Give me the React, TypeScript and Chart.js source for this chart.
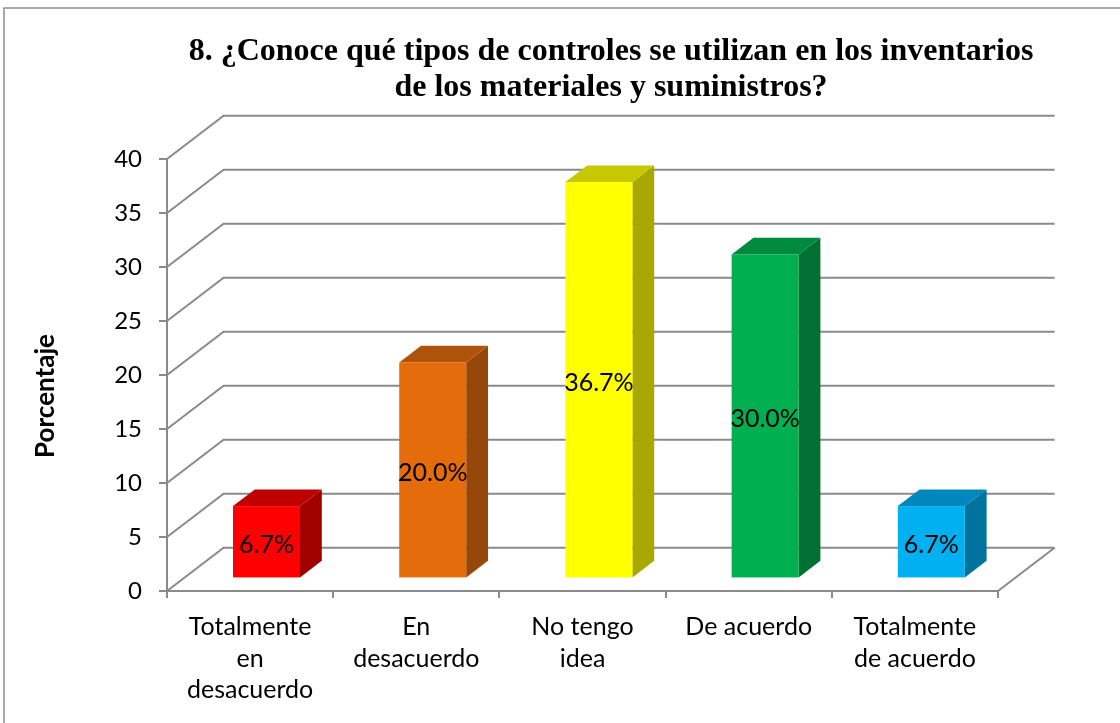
import React, { useEffect, useRef } from "react";
import { Chart, registerables } from "chart.js";

Chart.register(...registerables);

const titleLines = [
  "8. ¿Conoce qué tipos de controles se utilizan en los inventarios",
  "de los materiales y suministros?",
];
const yAxisTitle = "Porcentaje";
const categories = [
  ["Totalmente", "en", "desacuerdo"],
  ["En", "desacuerdo"],
  ["No tengo", "idea"],
  ["De acuerdo"],
  ["Totalmente", "de acuerdo"],
];
const values = [6.7, 20.0, 36.7, 30.0, 6.7];
const valueLabels = ["6.7%", "20.0%", "36.7%", "30.0%", "6.7%"];
const frontColors = ["#FF0000", "#E46C0A", "#FFFF00", "#00B050", "#00B0F0"];
const topColors = ["#C00000", "#B0530A", "#C8C800", "#008A3E", "#0088BC"];
const sideColors = ["#A00000", "#96470A", "#A8A800", "#007033", "#00729E"];
const yMin = 0;
const yMax = 40;
const yStep = 5;

const GRID = "#8a8a8a";
const GRID_W = 2;
const DX = 56.6;
const DY = -43.3;
const BAR_FRONT = 0.29;
const BAR_DEPTH = 0.385;

const threeD = {
  id: "threeD",
  beforeDraw(chart: any) {
    const ctx = chart.ctx;
    ctx.save();
    ctx.fillStyle = "#ffffff";
    ctx.fillRect(0, 0, chart.width, chart.height);
    ctx.strokeStyle = "#8c8c8c";
    ctx.lineWidth = 1.5;
    ctx.strokeRect(4, 8, 1300, 900);
    // title
    ctx.fillStyle = "#000";
    ctx.font = "bold 32px 'Liberation Serif'";
    ctx.textAlign = "center";
    ctx.textBaseline = "middle";
    ctx.fillText(titleLines[0], 611, 52);
    ctx.fillText(titleLines[1], 611, 88);
    // y title
    ctx.save();
    ctx.translate(46, 396);
    ctx.rotate(-Math.PI / 2);
    ctx.font = "bold 26px Lato";
    ctx.fillText(yAxisTitle, 0, 0);
    ctx.restore();
    ctx.restore();
  },
  beforeDatasetsDraw(chart: any) {
    const ctx = chart.ctx;
    const x = chart.scales.x;
    const y = chart.scales.y;
    ctx.save();
    ctx.strokeStyle = GRID;
    ctx.lineWidth = GRID_W;
    ctx.beginPath();
    y.ticks.forEach((t: any) => {
      const py = y.getPixelForValue(t.value);
      ctx.moveTo(x.left, py);
      ctx.lineTo(x.left + DX, py + DY);
      ctx.lineTo(x.right + DX, py + DY);
    });
    ctx.moveTo(x.right, y.bottom);
    ctx.lineTo(x.right + DX, y.bottom + DY);
    ctx.stroke();
    ctx.restore();
  },
  afterDatasetsDraw(chart: any) {
    const ctx = chart.ctx;
    const meta = chart.getDatasetMeta(0);
    ctx.save();
    meta.data.forEach((el: any, i: number) => {
      const fx = el.x - el.width / 2 + BAR_FRONT * DX;
      const rx = fx + el.width;
      const top = el.y + BAR_FRONT * DY;
      const bottom = el.base + BAR_FRONT * DY;
      const ddx = BAR_DEPTH * DX;
      const ddy = BAR_DEPTH * DY;
      ctx.fillStyle = sideColors[i];
      ctx.beginPath();
      ctx.moveTo(rx, top);
      ctx.lineTo(rx + ddx, top + ddy);
      ctx.lineTo(rx + ddx, bottom + ddy);
      ctx.lineTo(rx, bottom);
      ctx.closePath();
      ctx.fill();
      ctx.fillStyle = topColors[i];
      ctx.beginPath();
      ctx.moveTo(fx, top);
      ctx.lineTo(fx + ddx, top + ddy);
      ctx.lineTo(rx + ddx, top + ddy);
      ctx.lineTo(rx, top);
      ctx.closePath();
      ctx.fill();
      ctx.fillStyle = frontColors[i];
      ctx.fillRect(fx, top, rx - fx, bottom - top);
      ctx.fillStyle = "#000";
      ctx.font = "25px Lato";
      ctx.textAlign = "center";
      ctx.textBaseline = "middle";
      ctx.fillText(valueLabels[i], (fx + rx) / 2, (top + bottom) / 2 + 3);
    });
    ctx.restore();
  },
};

export default function App() {
  const ref = useRef<HTMLCanvasElement>(null);
  useEffect(() => {
    if (!ref.current) return;
    const chart = new Chart(ref.current, {
      type: "bar",
      data: {
        labels: categories as any,
        datasets: [
          {
            data: values,
            backgroundColor: "rgba(0,0,0,0)",
            borderWidth: 0,
            categoryPercentage: 1,
            barPercentage: 0.403,
          },
        ],
      },
      options: {
        responsive: false,
        animation: false,
        events: [],
        layout: { padding: { left: 67, right: 122, top: 159, bottom: 22 } },
        plugins: {
          legend: { display: false },
          title: { display: false },
          tooltip: { enabled: false },
        },
        scales: {
          x: {
            afterFit: (s: any) => {
              s.height = 110;
            },
            grid: {
              offset: true,
              drawOnChartArea: false,
              drawTicks: true,
              tickLength: 7,
              color: GRID,
              lineWidth: GRID_W,
            },
            border: { color: GRID, width: GRID_W },
            ticks: {
              color: "#000",
              padding: 13,
              maxRotation: 0,
              autoSkip: false,
              font: { family: "Lato", size: 25, lineHeight: 31.7 / 25 },
            },
          },
          y: {
            min: yMin,
            max: yMax,
            afterFit: (s: any) => {
              s.width = 100;
            },
            grid: {
              drawOnChartArea: false,
              drawTicks: true,
              tickLength: 8,
              color: GRID,
              lineWidth: GRID_W,
            },
            border: { color: GRID, width: GRID_W },
            ticks: {
              stepSize: yStep,
              color: "#000",
              padding: 17,
              font: { family: "Lato", size: 24 },
            },
          },
        },
      },
      plugins: [threeD],
    });
    return () => chart.destroy();
  }, []);
  return (
    <div style={{ position: "absolute", left: 0, top: 0, width: 1120, height: 723 }}>
      <canvas ref={ref} width={1120} height={723} />
    </div>
  );
}
